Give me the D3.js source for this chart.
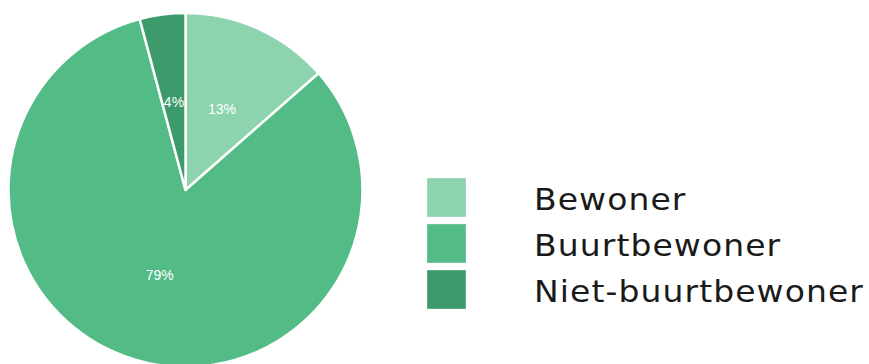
<!DOCTYPE html>
<html>
<head>
<meta charset="utf-8">
<script src="https://cdn.jsdelivr.net/npm/d3@7"></script>
<style>
  html, body { margin: 0; padding: 0; background: #ffffff; }
  svg { display: block; }
</style>
</head>
<body>
<svg id="chart" width="869" height="364"></svg>
<script>
// Respondent groups and their shares (percent)
const categories = ["Bewoner", "Buurtbewoner", "Niet-buurtbewoner"];
const values = [13, 79, 4];
const colors = ["#8dd3ad", "#52bb86", "#3d9a6a"];

const svg = d3.select("#chart");
const cx = 185.5, cy = 190, radius = 177;

const pie = d3.pie().sort(null).value(d => d.value);
const arcs = pie(categories.map((c, i) => ({ name: c, value: values[i] })));
const arc = d3.arc().innerRadius(0).outerRadius(radius);

const color = d3.scaleOrdinal().domain(categories).range(colors);

const g = svg.append("g").attr("transform", `translate(${cx},${cy})`);

g.selectAll("path.slice")
  .data(arcs)
  .join("path")
  .attr("class", "slice")
  .attr("d", arc)
  .attr("fill", d => color(d.data.name))
  .attr("stroke", "#ffffff")
  .attr("stroke-width", 2.5)
  .attr("stroke-linejoin", "round");

g.selectAll("text.pct")
  .data(arcs)
  .join("text")
  .attr("class", "pct")
  .attr("transform", d => `translate(${arc.centroid(d)})`)
  .attr("text-anchor", "middle")
  .attr("dominant-baseline", "central")
  .attr("fill", "#ffffff")
  .attr("font-family", "Liberation Sans, Arial, sans-serif")
  .attr("font-size", 14)
  .text(d => d.data.value + "%");

// Legend
const legendY = d3.scaleBand().domain(categories).range([178, 309]).paddingInner(7 / 46);
const legend = svg.append("g");
const items = legend.selectAll("g.item")
  .data(categories)
  .join("g")
  .attr("class", "item")
  .attr("transform", d => `translate(427,${legendY(d)})`);

items.append("rect")
  .attr("width", legendY.bandwidth())
  .attr("height", legendY.bandwidth())
  .attr("fill", d => color(d))
  .attr("stroke", "#ffffff")
  .attr("stroke-opacity", 0.35)
  .attr("stroke-width", 1);

// Wide geometric lettering for the legend labels
items.append("text")
  .attr("transform", "translate(107,32) scale(1.1,1)")
  .attr("fill", "#1a1a1a")
  .attr("font-family", "DejaVu Sans, sans-serif")
  .attr("font-size", 30)
  .attr("letter-spacing", 1.0)
  .text(d => d);
</script>
</body>
</html>
